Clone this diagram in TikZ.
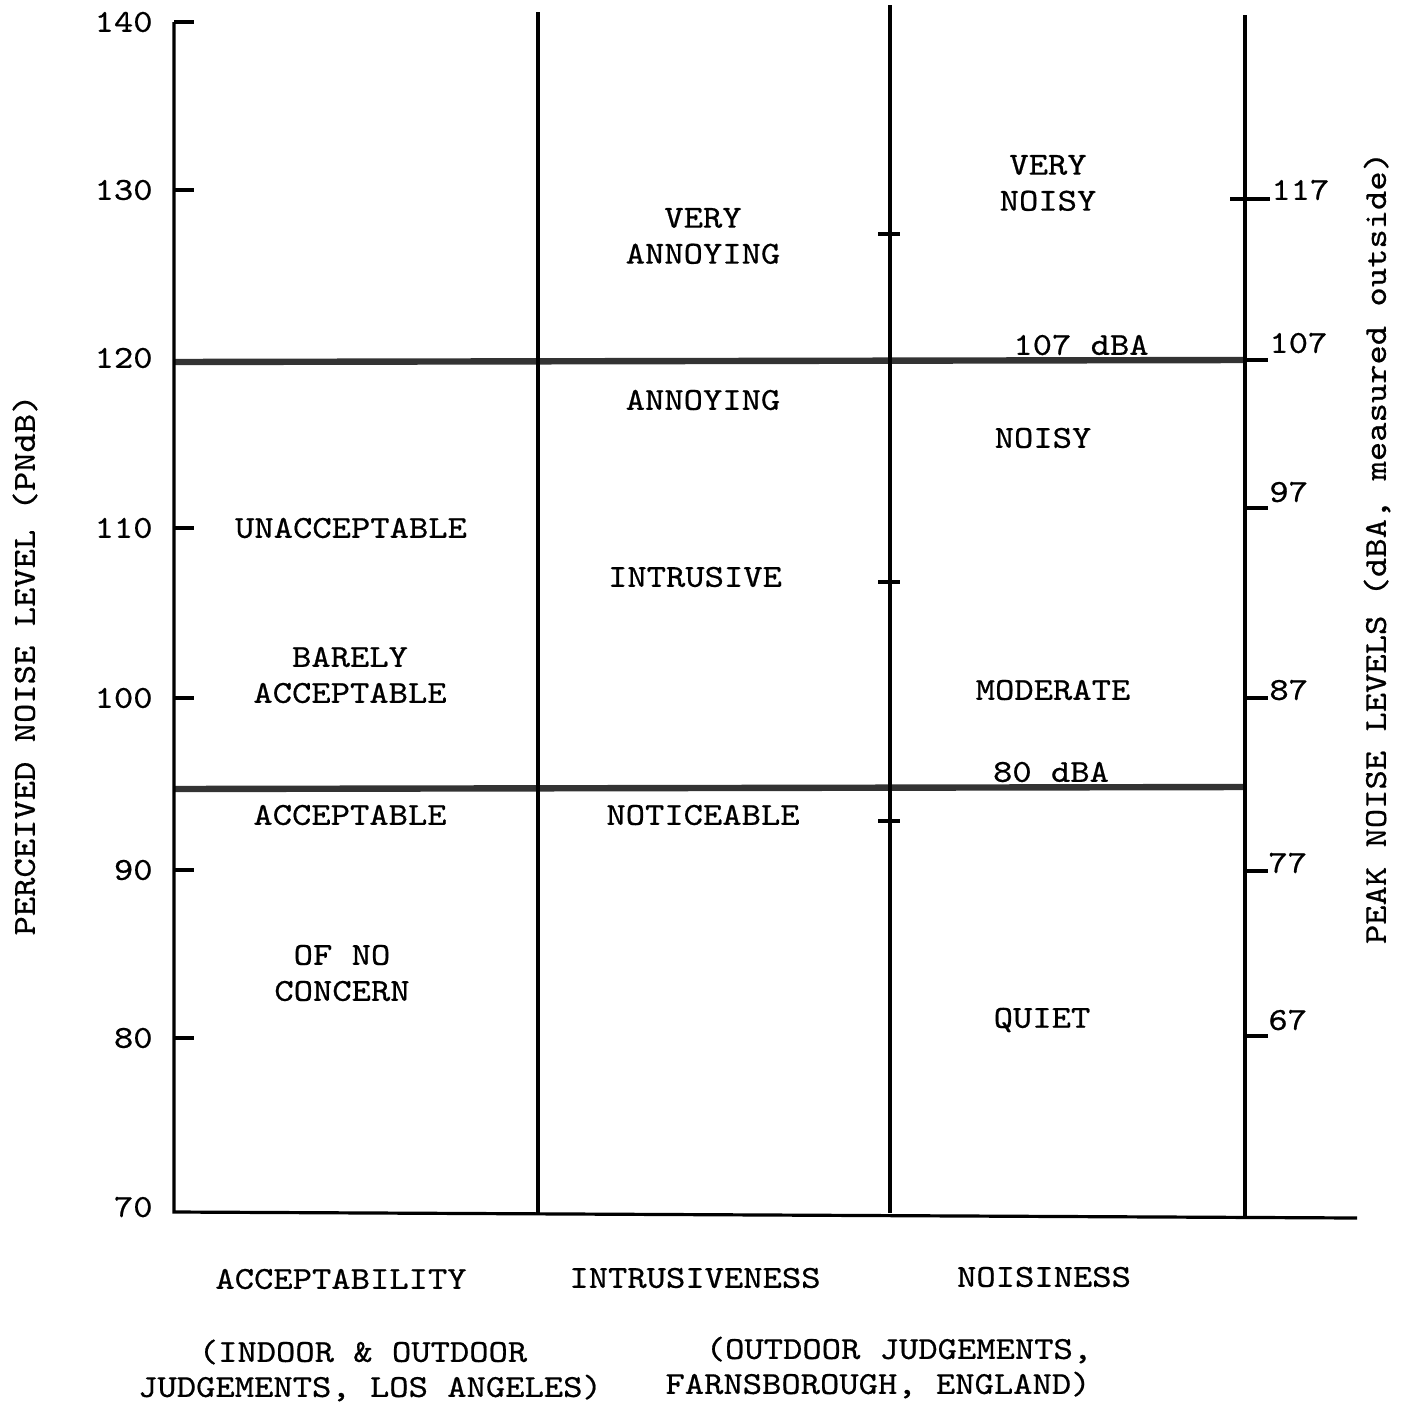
\documentclass[tikz,border=0pt]{standalone}
\usepackage{fontspec}
\newfontfamily\twfont{lmmono10-regular.otf}[FakeStretch=1.15, FakeBold=0.6]
\begin{document}
\begin{tikzpicture}[x=0.5pt,y=-0.5pt,
  lbl/.style={font=\twfont\fontsize{16}{18}\selectfont, inner sep=0pt, align=center},
  frameline/.style={line width=1.6pt, black},
  band/.style={line width=3.2pt, black!80},
  tickline/.style={line width=1.6pt, black}]
\useasboundingbox (0,0) rectangle (1405,1408);
\fill[white] (0,0) rectangle (1405,1408);

% frame coordinates
\coordinate (LT) at (174,22);
\coordinate (LB) at (174,1212);
\coordinate (BR) at (1357,1218);
\coordinate (V1T) at (538,12);
\coordinate (V1B) at (538,1213);
\coordinate (V2T) at (890,5);
\coordinate (V2B) at (890,1213);
\coordinate (V3T) at (1245,15);
\coordinate (V3B) at (1245,1218);
\coordinate (B1L) at (174,362);
\coordinate (B1R) at (1245,360);
\coordinate (B2L) at (174,789);
\coordinate (B2R) at (1245,787);

% bands
\draw[band] (B1L) -- (B1R);
\draw[band] (B2L) -- (B2R);

% frame
\draw[frameline] (LT) -- (LB) -- (BR);
\draw[frameline] (V1T) -- (V1B);
\draw[frameline] (V2T) -- (V2B);
\draw[frameline] (V3T) -- (V3B);

% left ticks and labels
\foreach \v/\y in {140/22,130/190,120/358,110/528,100/698,90/870,80/1038,70/1207}{
  \node[lbl, anchor=east] (L\v) at (153,\y) {\v};
}
\foreach \y in {22,190,528,698,870,1038}{
  \draw[tickline] (174,\y) -- ++(20,0);
}

% middle crossing ticks
\foreach \y in {234,582,821}{
  \draw[tickline] (878,\y) -- (900,\y);
}

% right ticks and labels
\draw[tickline] (1230,199) -- (1270,199);
\foreach \y in {360,508,698,871,1036}{
  \draw[tickline] (1245,\y) -- (1268,\y);
}
\node[lbl, anchor=west] (R117) at (1271,190) {117};
\node[lbl, anchor=west] (R107) at (1269,343) {107};
\node[lbl, anchor=west] (R97) at (1269,492) {97};
\node[lbl, anchor=west] (R87) at (1269,690) {87};
\node[lbl, anchor=west] (R77) at (1268,863) {77};
\node[lbl, anchor=west] (R67) at (1268,1020) {67};

% axis titles
\node[lbl, rotate=90] (ytitle) at (25,665) {PERCEIVED NOISE LEVEL (PNdB)};
\node[lbl, rotate=90] (y2title) at (1377,548) {PEAK NOISE LEVELS (dBA, measured outside)};

% acceptability column
\node[lbl] (unacc) at (351,528) {UNACCEPTABLE};
\node[lbl] (barely) at (350,675) {BARELY\\ACCEPTABLE};
\node[lbl] (acc) at (350,815) {ACCEPTABLE};
\node[lbl] (noconc) at (342,973) {OF NO\\CONCERN};

% intrusiveness column
\node[lbl] (vann) at (703,236) {VERY\\ANNOYING};
\node[lbl] (ann) at (703,400) {ANNOYING};
\node[lbl] (intr) at (695,577) {INTRUSIVE};
\node[lbl] (notic) at (703,815) {NOTICEABLE};

% noisiness column
\node[lbl] (vnoisy) at (1048,183) {VERY\\NOISY};
\node[lbl] (dba107) at (1081,345) {107 dBA};
\node[lbl] (noisy) at (1043,438) {NOISY};
\node[lbl] (moder) at (1053,690) {MODERATE};
\node[lbl] (dba80) at (1051,772) {80 dBA};
\node[lbl] (quiet) at (1042,1020) {QUIET};

% column titles
\node[lbl] (tacc) at (341,1279) {ACCEPTABILITY};
\node[lbl] (tintr) at (695,1278) {INTRUSIVENESS};
\node[lbl] (tnois) at (1044,1277) {NOISINESS};

% sources
\node[lbl] (s1a) at (363,1352) {(INDOOR \& OUTDOOR};
\node[lbl] (s1b) at (370,1388) {JUDGEMENTS, LOS ANGELES)};
\node[lbl] (s2a) at (899,1350) {(OUTDOOR JUDGEMENTS,};
\node[lbl] (s2b) at (878,1385) {FARNSBOROUGH, ENGLAND)};
\end{tikzpicture}
\end{document}
